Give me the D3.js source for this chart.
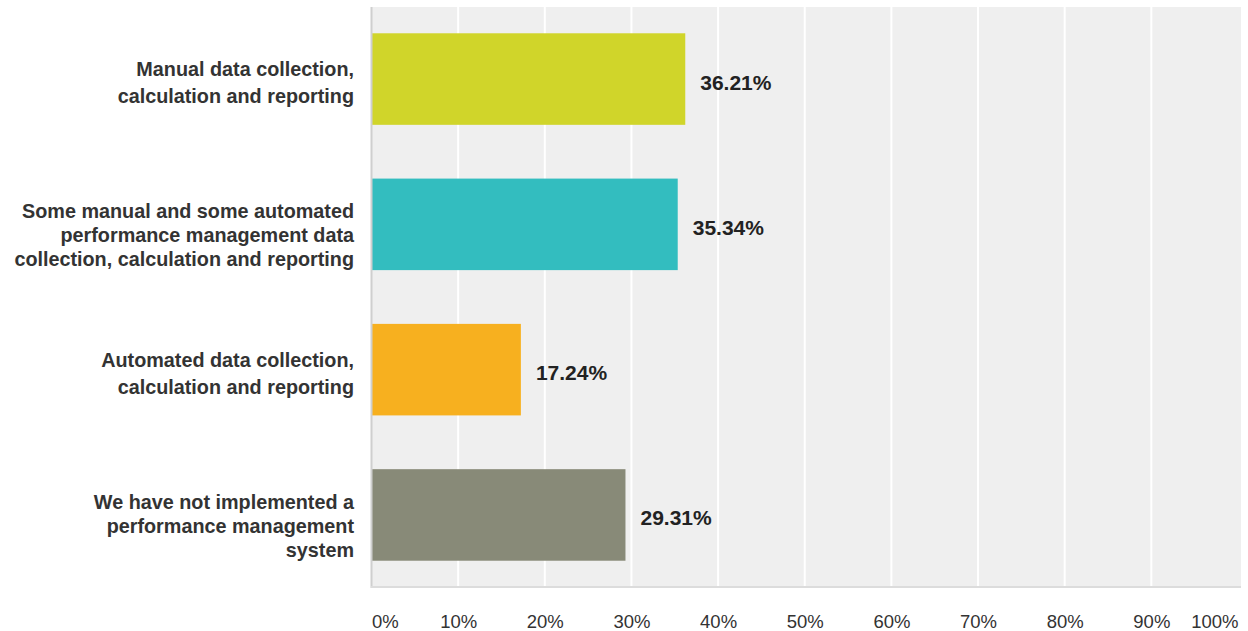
<!DOCTYPE html>
<html>
<head>
<meta charset="utf-8">
<script src="https://cdn.jsdelivr.net/npm/d3@7"></script>
<style>
  html, body { margin: 0; padding: 0; background: #fff; }
  svg { display: block; font-family: "Liberation Sans", Arial, Helvetica, sans-serif; }
</style>
</head>
<body>
<svg id="chart" width="1248" height="631"></svg>
<script>
// Survey responses: how performance management data is handled
const categories = [
  ["Manual data collection,", "calculation and reporting"],
  ["Some manual and some automated", "performance management data", "collection, calculation and reporting"],
  ["Automated data collection,", "calculation and reporting"],
  ["We have not implemented a", "performance management", "system"]
];
const values = [36.21, 35.34, 17.24, 29.31];
const colors = ["#d0d52a", "#33bdbf", "#f7b01f", "#888a78"];
const tickValues = [0, 10, 20, 30, 40, 50, 60, 70, 80, 90, 100];
const tickLabels = tickValues.map(v => v + "%");

const svg = d3.select("#chart");
const plot = { left: 372, right: 1240, top: 7, bottom: 586 };

const x = d3.scaleLinear().domain([0, 100]).range([371.5, 1238]);
const y = d3.scaleBand()
  .domain(d3.range(categories.length))
  .range([plot.top + 1, plot.bottom])
  .paddingInner(0.37)
  .paddingOuter(0.174);

// plot background
svg.append("rect")
  .attr("x", plot.left).attr("y", plot.top)
  .attr("width", plot.right - plot.left + 1)
  .attr("height", plot.bottom - plot.top)
  .attr("fill", "#efefef");

// vertical white gridlines
svg.append("g")
  .selectAll("line")
  .data(tickValues.slice(1, -1))
  .join("line")
  .attr("x1", d => x(d)).attr("x2", d => x(d))
  .attr("y1", plot.top).attr("y2", plot.bottom)
  .attr("stroke", "#ffffff")
  .attr("stroke-width", 2);

// bars
svg.append("g")
  .selectAll("rect")
  .data(values)
  .join("rect")
  .attr("x", plot.left)
  .attr("y", (d, i) => y(i))
  .attr("width", d => x(d) - plot.left)
  .attr("height", y.bandwidth())
  .attr("fill", (d, i) => colors[i]);

// left axis line
svg.append("line")
  .attr("x1", plot.left - 0.5).attr("x2", plot.left - 0.5)
  .attr("y1", plot.top).attr("y2", plot.bottom + 2)
  .attr("stroke", "#cfcfcf").attr("stroke-width", 2);

// bottom axis line
svg.append("line")
  .attr("x1", plot.left - 1).attr("x2", plot.right + 1)
  .attr("y1", plot.bottom + 1).attr("y2", plot.bottom + 1)
  .attr("stroke", "#dcdcdc").attr("stroke-width", 2);

// value labels
svg.append("g")
  .selectAll("text")
  .data(values)
  .join("text")
  .attr("x", d => x(d) + 15)
  .attr("y", (d, i) => y(i) + y.bandwidth() / 2 + 10.5)
  .attr("font-size", 21)
  .attr("font-weight", "bold")
  .attr("fill", "#222")
  .text(d => d.toFixed(2) + "%");

// category labels (multi-line, right aligned)
const catG = svg.append("g");
categories.forEach((lines, i) => {
  const t = catG.append("text")
    .attr("text-anchor", "end")
    .attr("font-size", 19.8)
    .attr("font-weight", "bold")
    .attr("fill", "#333");
  const cy = y(i) + y.bandwidth() / 2;
  const lh = lines.length > 2 ? 24 : 27;
  lines.forEach((ln, j) => {
    t.append("tspan")
      .attr("x", 354)
      .attr("y", cy - (lines.length > 2 ? 6 : 3) + j * lh)
      .text(ln);
  });
});

// x axis tick labels
const xAxis = d3.axisBottom(x)
  .tickValues(tickValues)
  .tickFormat((d, i) => tickLabels[i])
  .tickSize(0)
  .tickPadding(0);

const axisG = svg.append("g")
  .attr("transform", `translate(0, 628)`)
  .call(xAxis);
axisG.select(".domain").remove();
axisG.selectAll("text")
  .attr("dy", 0)
  .attr("y", 0)
  .attr("font-size", 18.5)
  .attr("font-family", "'Liberation Sans', Arial, sans-serif")
  .attr("fill", "#333")
  .attr("text-anchor", (d, i) => i === 0 ? "start" : (i === tickValues.length - 1 ? "end" : "middle"));
</script>
</body>
</html>
